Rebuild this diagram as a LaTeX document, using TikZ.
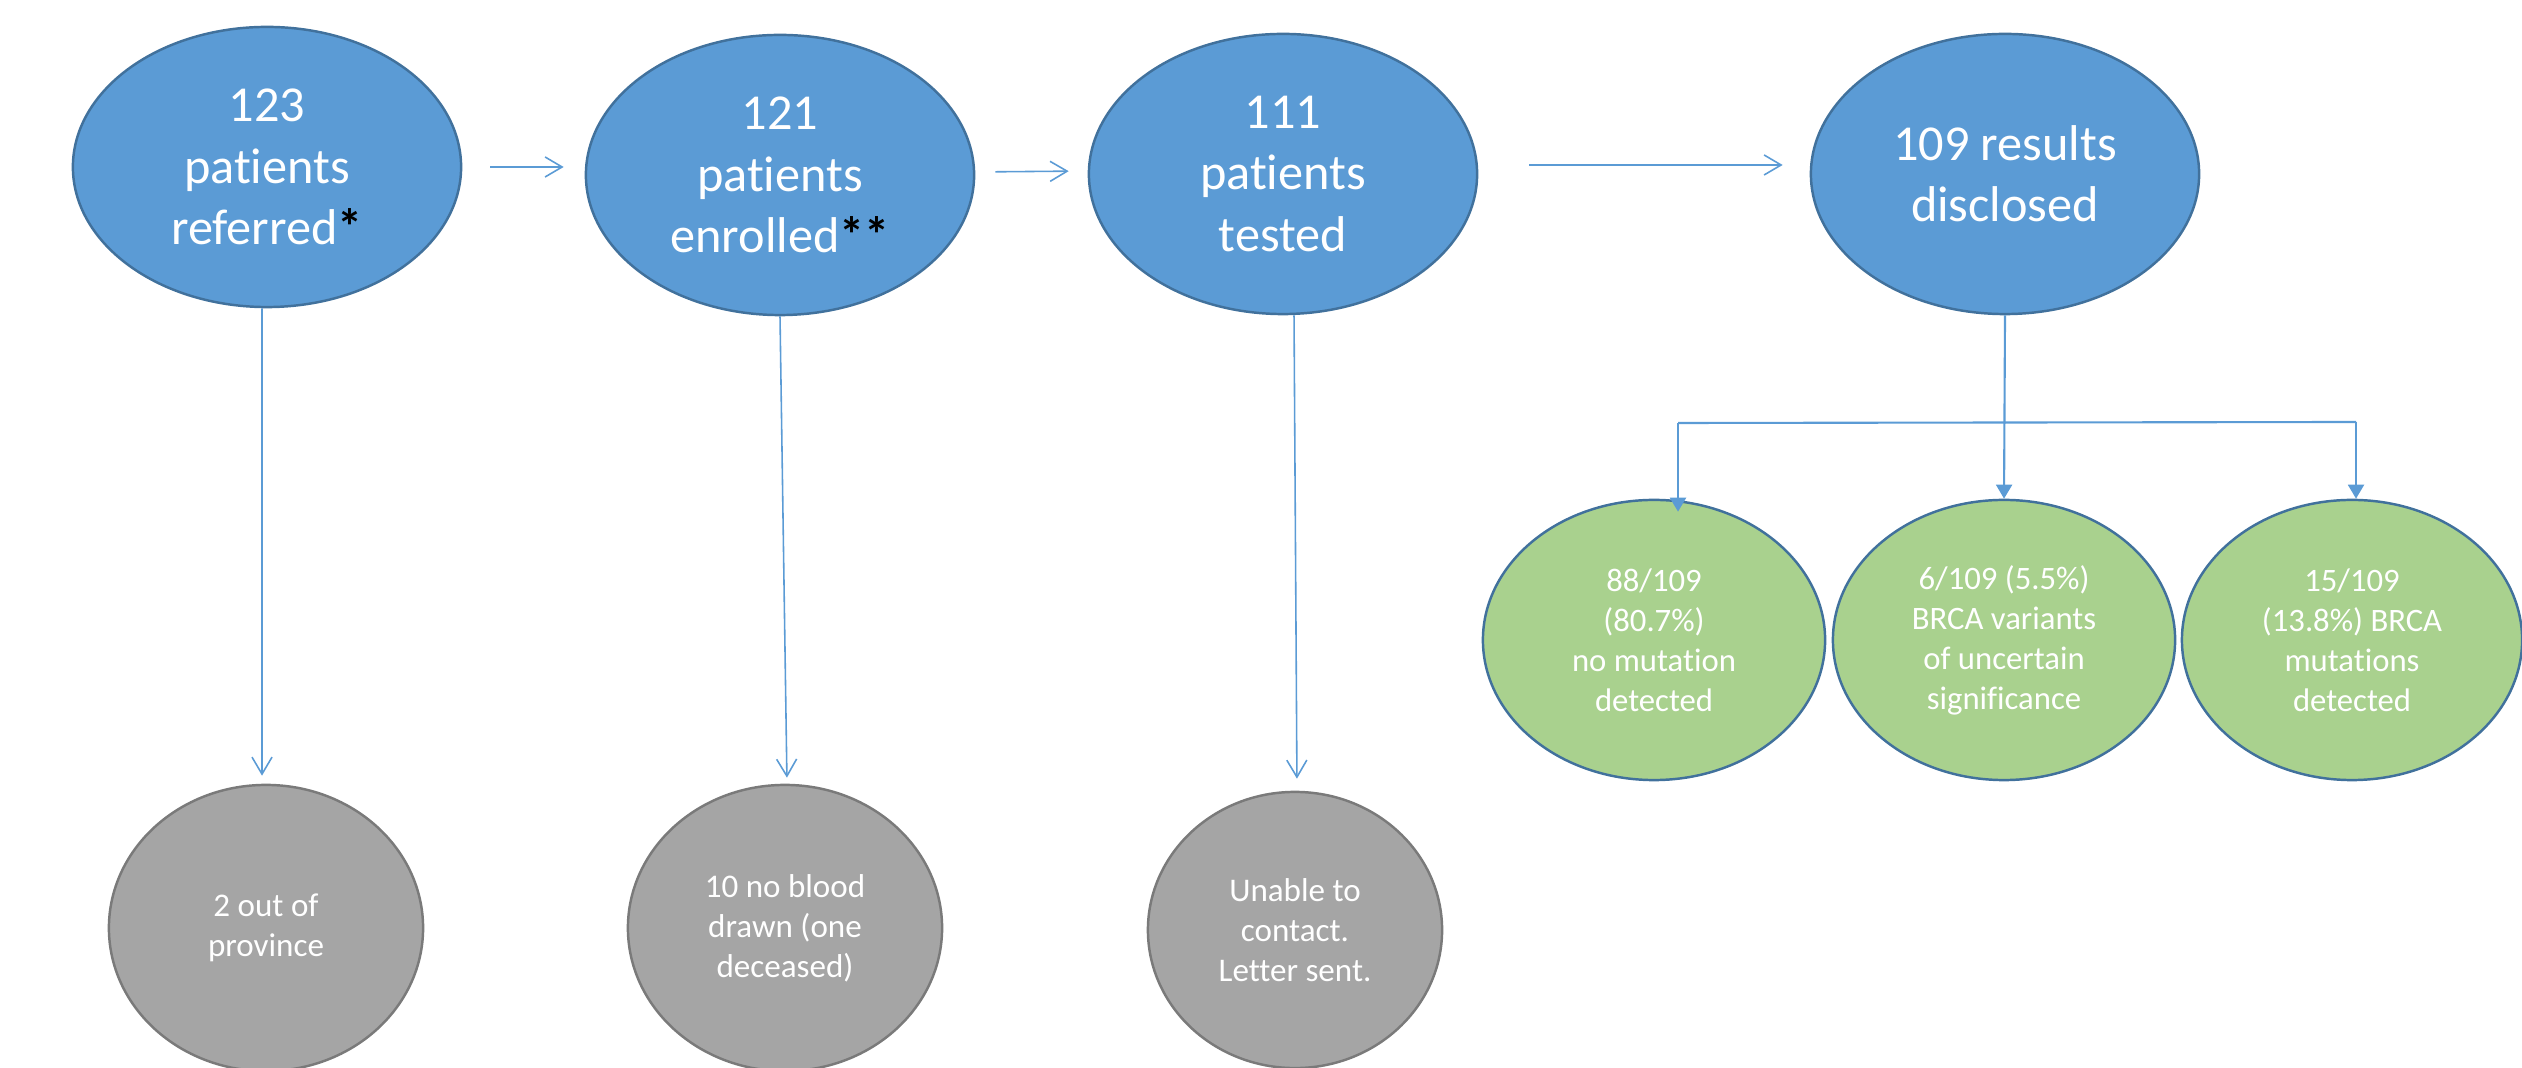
\documentclass[tikz,border=0pt]{standalone}
\usepackage{fontspec}
\setmainfont{Carlito}[Ligatures={NoCommon,NoContextual},RawFeature={-liga;-calt;-clig}]
\usetikzlibrary{shapes.geometric,arrows.meta}
\definecolor{bfill}{HTML}{5B9BD5}
\definecolor{bdraw}{HTML}{41719C}
\definecolor{gfill}{HTML}{A9D18E}
\definecolor{gdraw}{HTML}{41719C}
\definecolor{yfill}{HTML}{A5A5A5}
\definecolor{ydraw}{HTML}{7A7A7A}
\definecolor{lcol}{HTML}{5B9BD5}
\tikzset{
  bluebox/.style={ellipse, inner sep=0pt, fill=bfill, draw=bdraw, line width=0.7pt,
    minimum width=3.88cm, minimum height=2.8cm, text=white, align=center,
    font=\fontsize{14.3}{17.4}\selectfont},
  greenbox/.style={ellipse, inner sep=0pt, fill=gfill, draw=gdraw, line width=0.7pt,
    minimum width=3.42cm, minimum height=2.8cm, text=white, align=center,
    font=\fontsize{9.3}{11.4}\selectfont},
  graybox/.style={ellipse, inner sep=0pt, fill=yfill, draw=ydraw, line width=0.7pt,
    minimum width=3.14cm, minimum height=2.86cm, text=white, align=center,
    font=\fontsize{9.4}{11.4}\selectfont},
  openarr/.style={draw=lcol, line width=0.45pt, -{Straight Barb[length=1.7mm,width=2mm]}},
  fillarr/.style={draw=lcol, line width=0.6pt, -{Triangle[length=1.4mm,width=1.6mm]}},
  plainln/.style={draw=lcol, line width=0.6pt}
}
\newcommand{\blk}[1]{\textcolor{black}{\textbf{#1}}}
\begin{document}
\begin{tikzpicture}[x=0.01cm,y=-0.01cm]
\useasboundingbox (0,0) rectangle (2522,1068);
% main flow
\node[bluebox] (e1) at (267,167) {123\\patients\\referred\blk{*}};
\node[bluebox] (e2) at (780,175) {121\\patients\\enrolled\blk{**}};
\node[bluebox] (e3) at (1283,174) {111\\patients\\tested};
\node[bluebox] (e4) at (2005,174) {109 results\\disclosed};
% exclusions
\node[graybox] (g1) at (266,928) {2 out of\\province};
\node[graybox] (g2) at (785,928) {10 no blood\\drawn (one\\deceased)};
\node[graybox, minimum width=2.94cm, minimum height=2.76cm] (g3) at (1295,930) {Unable to\\contact.\\Letter sent.};
% results
\node[greenbox] (r1) at (1654,640) {88/109\\(80.7\%)\\no mutation\\detected};
\node[greenbox] (r2) at (2004,640) {6/109 (5.5\%)\\BRCA variants\\of uncertain\\significance};
\node[greenbox, minimum width=3.4cm] (r3) at (2352,640) {15/109\\(13.8\%) BRCA\\mutations\\detected};
% horizontal arrows
\draw[openarr, shorten <=2.8mm, shorten >=2.1mm] (e1.east) -- (e1.east -| e2.west);
\draw[openarr, shorten <=2.0mm, shorten >=1.9mm] ([yshift=0.3mm]e2.east) -- ([yshift=0.3mm]e3.west);
\draw[openarr, shorten <=5.1mm, shorten >=2.7mm] ([yshift=0.9mm]e3.east) -- ([yshift=0.9mm]e4.west);
% vertical arrows to exclusions
\draw[openarr, shorten >=0.8mm] ([xshift=-0.5mm]e1.south) -- ([xshift=-0.4mm]g1.north);
\draw[openarr, shorten >=0.6mm] (e2.south) -- ([xshift=0.2mm]g2.north);
\draw[openarr, shorten >=1.2mm] ([xshift=1.1mm]e3.south) -- ([xshift=0.2mm]g3.north);
% branching to results
\coordinate (bl) at (1678,423);
\coordinate (br) at (2356,422);
\draw[plainln] (bl) -- (br);
\draw[fillarr] (e4.south) -- (r2.north);
\draw[fillarr, shorten >=-1.3mm] (bl) -- (bl |- r1.north);
\draw[fillarr] (br) -- (br |- r3.north);
\end{tikzpicture}
\end{document}
